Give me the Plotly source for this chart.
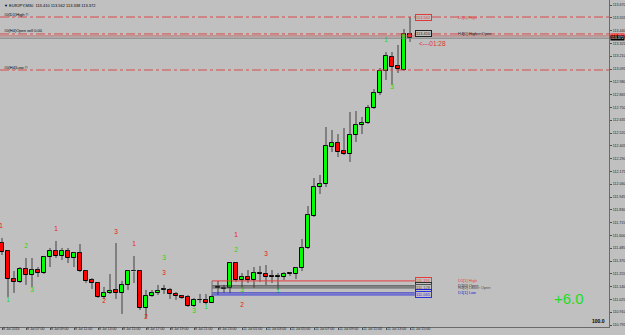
import plotly.graph_objects as go

# ---------------- data (EURJPY M30, 8 Jul 05:00 -> 11 Jul 15:00) ----------------
opens = [111.532, 111.460, 111.208, 111.182, 111.298, 111.244, 111.289, 111.262, 111.406, 111.460,
         111.415, 111.460, 111.397, 111.442, 111.280, 111.200, 111.173, 111.047, 111.083, 111.110,
         111.083, 111.155, 111.280, 111.280, 110.948, 111.056, 111.083, 111.110, 111.110, 111.074,
         111.056, 111.047, 110.966, 111.020, 111.020, 110.993, 111.137, 111.128, 111.128, 111.352,
         111.200, 111.226, 111.200, 111.262, 111.253, 111.226, 111.235, 111.226, 111.262, 111.253,
         111.307, 111.487, 111.774, 112.035, 112.062, 112.394, 112.430, 112.358, 112.331, 112.502,
         112.592, 112.610, 112.745, 112.880, 113.077, 113.203, 113.122, 113.086, 113.410]
highs = [111.577, 111.469, 111.280, 111.316, 111.397, 111.397, 111.316, 111.415, 111.487, 111.550,
         111.487, 111.487, 111.451, 111.523, 111.289, 111.217, 111.182, 111.137, 111.253, 111.532,
         111.191, 111.289, 111.415, 111.289, 111.110, 111.110, 111.155, 111.155, 111.128, 111.092,
         111.065, 111.065, 111.038, 111.074, 111.074, 111.065, 111.191, 111.155, 111.361, 111.361,
         111.262, 111.289, 111.316, 111.325, 111.334, 111.289, 111.262, 111.271, 111.271, 111.316,
         111.568, 111.864, 112.116, 112.143, 112.574, 112.547, 112.511, 112.565, 112.709, 112.718,
         112.664, 112.772, 112.915, 113.104, 113.248, 113.248, 113.311, 113.454, 113.562]
lows = [111.424, 111.047, 111.083, 111.173, 111.155, 111.137, 111.226, 111.253, 111.316, 111.397,
        111.379, 111.352, 111.316, 111.271, 111.173, 111.119, 111.038, 111.029, 111.074, 111.029,
        110.894, 111.110, 111.173, 110.930, 110.858, 111.047, 111.065, 111.074, 111.029, 111.020,
        111.029, 110.957, 110.957, 110.993, 110.984, 110.993, 111.065, 111.083, 111.083, 111.182,
        111.137, 111.173, 111.128, 111.182, 111.155, 111.173, 111.110, 111.200, 111.235, 111.208,
        111.280, 111.478, 111.765, 111.972, 112.035, 112.349, 112.304, 112.322, 112.260, 112.439,
        112.511, 112.601, 112.736, 112.861, 112.996, 112.951, 113.059, 113.080, 113.338]
closes = [111.451, 111.208, 111.182, 111.298, 111.244, 111.289, 111.262, 111.406, 111.460, 111.415,
          111.460, 111.397, 111.442, 111.280, 111.191, 111.173, 111.047, 111.083, 111.101, 111.083,
          111.155, 111.280, 111.276, 110.948, 111.056, 111.083, 111.101, 111.112, 111.074, 111.056,
          111.038, 110.966, 111.020, 111.022, 110.993, 111.047, 111.128, 111.119, 111.352, 111.200,
          111.226, 111.200, 111.262, 111.253, 111.226, 111.235, 111.226, 111.253, 111.253, 111.307,
          111.487, 111.783, 112.035, 112.062, 112.403, 112.430, 112.349, 112.331, 112.502, 112.592,
          112.610, 112.745, 112.880, 113.077, 113.212, 113.113, 113.095, 113.410, 113.372]

time_tick_bars = [0, 4, 8, 12, 16, 20, 24, 28, 32, 36, 40, 44, 48, 52, 56, 60, 64, 68]
time_tick_labels = ["8 Jul 2016", "8 Jul 07:00", "8 Jul 09:00", "8 Jul 11:00", "8 Jul 13:00",
                    "8 Jul 15:00", "8 Jul 17:00", "8 Jul 19:00", "8 Jul 21:00", "8 Jul 23:00",
                    "11 Jul 01:00", "11 Jul 03:00", "11 Jul 05:00", "11 Jul 07:00", "11 Jul 09:00",
                    "11 Jul 11:00", "11 Jul 13:00", "11 Jul 15:00"]

price_ticks = [113.670, 113.555, 113.440, 113.325, 113.210, 113.095, 112.980, 112.865, 112.750,
               112.635, 112.520, 112.405, 112.290, 112.175, 112.060, 111.945, 111.830, 111.715,
               111.600, 111.485, 111.370, 111.255, 111.140, 111.025, 110.910, 110.795]

# swing labels
mark_bars = [-0.15, 1, 4, 5, 9, 17, 19, 22, 24, 27, 27, 32, 34, 39, 39, 40, 40, 44, 46, 64, 65]
mark_prices = [111.685, 111.020, 111.505, 111.110, 111.658, 111.011, 111.631, 111.523, 110.867,
               111.397, 111.262, 110.921, 110.957, 111.604, 111.469, 111.110, 110.975, 111.433,
               111.101, 113.356, 112.933]
mark_texts = ["1", "1", "2", "3", "1", "2", "3", "1", "2", "3", "3", "3", "1", "1", "2", "3", "2",
              "3", "1", "1", "3"]
mark_sides = ["r", "g", "g", "g", "r", "r", "r", "r", "r", "g", "r", "g", "g", "r", "g", "g", "r",
              "r", "g", "g", "g"]

# full-width levels (dash-dot, red)
top_levels = [113.562, 113.410, 113.086]
top_level_names = ["D1[0] High", "H4[0] Higher Open", None]
left_level_tags = ["#0(D1)High \u00a9", "#0(H4)Open sell 0.00", "#0(H4)Low \u00a9"]
bid = 113.372
ask = 113.392

# lower levels (start at bar 35)
low_levels = [111.191, 111.146, 111.128, 111.083, 111.065]
low_level_colors = ["#e83a3a", "#303030", "#505050", "#2020d0", "#3030e0"]
low_level_names = ["D1[1] High", "D1[0] Open", "H4[0] Lower Open", "D1[1] Low", None]
low_level_start = 35

BG = "#C0C0C0"
UP = "#00FF00"
DN = "#FF0000"
n = len(opens)
idx = list(range(n))

fig = go.Figure()

# wicks (upper and lower segments so they don't cross bodies)
wx, wy = [], []
for i in idx:
    top = max(opens[i], closes[i])
    bot = min(opens[i], closes[i])
    wx += [i, i, None, i, i, None]
    wy += [highs[i], top, None, bot, lows[i], None]
fig.add_trace(go.Scatter(x=wx, y=wy, mode="lines", line=dict(color="#404040", width=1),
                         hoverinfo="skip"))

# bodies
base = [min(o, c) for o, c in zip(opens, closes)]
height = [max(abs(c - o), 0.004) for o, c in zip(opens, closes)]
cols = [UP if c > o else DN for o, c in zip(opens, closes)]
fig.add_trace(go.Bar(x=idx, y=height, base=base, width=0.8,
                     marker=dict(color=cols, line=dict(color="#000000", width=1))))

# swing labels
fig.add_trace(go.Scatter(x=mark_bars, y=mark_prices, mode="text", text=mark_texts,
                         textfont=dict(family="Liberation Sans", size=6.5,
                                       color=["#ee1111" if s == "r" else "#11dd11" for s in mark_sides]),
                         cliponaxis=True, hoverinfo="skip"))

shapes = []
ann = []
small = dict(family="Liberation Sans", size=4, color="#000000")

for lv, name, tag in zip(top_levels, top_level_names, left_level_tags):
    shapes.append(dict(type="line", xref="paper", x0=0, x1=1, yref="y", y0=lv, y1=lv,
                       line=dict(color="#d94a4a", width=1, dash="dashdot")))
    ann.append(dict(xref="paper", x=0.004, y=lv, yref="y", yshift=3, xanchor="left",
                    yanchor="middle", text=tag, showarrow=False, font=small))

# bid / ask lines
shapes.append(dict(type="line", xref="paper", x0=0, x1=1, yref="y", y0=ask, y1=ask,
                   line=dict(color="#c07070", width=1)))
shapes.append(dict(type="line", xref="paper", x0=0, x1=1, yref="y", y0=bid, y1=bid,
                   line=dict(color="#808080", width=1)))

box_x = n - 1 + 2.2
name_x = n - 1 + 7.6
# top level price boxes
for lv, name, colr in zip(top_levels[:2], top_level_names[:2], ["#e03a3a", "#202020"]):
    ann.append(dict(x=box_x, y=lv, text=f"{lv:.3f}", showarrow=False, xanchor="center",
                    font=dict(family="Liberation Sans", size=4, color=colr),
                    bordercolor=colr, borderwidth=1, borderpad=0, bgcolor=BG))
    ann.append(dict(x=name_x, y=lv, text=name, showarrow=False, xanchor="left",
                    font=dict(family="Liberation Sans", size=4, color=colr)))

# lower level lines
for lv, colr, name in zip(low_levels, low_level_colors, low_level_names):
    shapes.append(dict(type="line", xref="x", x0=low_level_start, x1=n - 1 + 0.8, yref="y",
                       y0=lv, y1=lv, line=dict(color=colr, width=1)))
    ann.append(dict(x=box_x, y=lv, text=f"{lv:.3f}", showarrow=False, xanchor="center",
                    font=dict(family="Liberation Sans", size=4, color=colr),
                    bordercolor=colr, borderwidth=1, borderpad=0, bgcolor=BG))
    if name:
        ann.append(dict(x=name_x, y=lv, text=name, showarrow=False, xanchor="left",
                        font=dict(family="Liberation Sans", size=4, color=colr)))
shapes.append(dict(type="line", xref="x", x0=low_level_start, x1=low_level_start, yref="y",
                   y0=min(low_levels), y1=max(low_levels), line=dict(color="#707070", width=1)))

# candle timer
ann.append(dict(x=n - 1 + 1.2, y=closes[-1] - 0.045, text="<---01:28", showarrow=False,
                xanchor="left", font=dict(family="Liberation Sans", size=6.5, color="#e03030")))

# price tags on axis
ann.append(dict(xref="paper", x=1.0, y=ask, text=f"{ask:.3f}", showarrow=False, xanchor="left",
                xshift=1, font=dict(family="Liberation Sans", size=3.6, color="#ffffff"),
                bgcolor="#ff0000", borderpad=0))
ann.append(dict(xref="paper", x=1.0, y=bid, text=f"{bid:.3f}", showarrow=False, xanchor="left",
                xshift=1, font=dict(family="Liberation Sans", size=3.6, color="#ffffff"),
                bgcolor="#000000", borderpad=0))

# title
ann.append(dict(xref="paper", yref="paper", x=0.004, y=0.997, xanchor="left", yanchor="top",
                text=f"\u25bc EURJPY,M30  {opens[-1]:.3f} {highs[-1]:.3f} {lows[-1]:.3f} {closes[-1]:.3f}",
                showarrow=False, font=small))
# spread counter
ann.append(dict(xref="paper", yref="paper", x=0.962, y=0.055, text="+6.0", showarrow=False,
                font=dict(family="Liberation Sans", size=15, color="#22dd22")))
ann.append(dict(xref="paper", yref="paper", x=0.997, y=0.003, xanchor="right", yanchor="bottom",
                text="<b>100.0</b>", showarrow=False,
                font=dict(family="Liberation Sans", size=5, color="#000000")))

fig.update_layout(
    width=625, height=335,
    margin=dict(l=0, r=16, t=0, b=8),
    paper_bgcolor=BG, plot_bgcolor=BG,
    showlegend=False, bargap=0,
    shapes=shapes, annotations=ann,
    xaxis=dict(range=[-0.333, 101.167], tickvals=time_tick_bars, ticktext=time_tick_labels,
               ticks="outside", ticklen=2, tickcolor="#505050", showgrid=False, zeroline=False,
               showline=True, linecolor="#6a6a6a", linewidth=1, automargin=False,
               tickangle=0, ticklabelposition="outside right", ticklabelstandoff=-2,
               tickfont=dict(family="Liberation Sans", size=3.6, color="#202020")),
    yaxis=dict(range=[110.777, 113.715], side="right", tickvals=price_ticks,
               ticktext=[f"{v:.3f}" for v in price_ticks], ticks="outside", ticklen=2,
               tickcolor="#505050", showgrid=False, zeroline=False, showline=True,
               linecolor="#6a6a6a", linewidth=1, automargin=False,
               tickfont=dict(family="Liberation Sans", size=3.6, color="#202020")),
)

fig.write_html("out.html")
